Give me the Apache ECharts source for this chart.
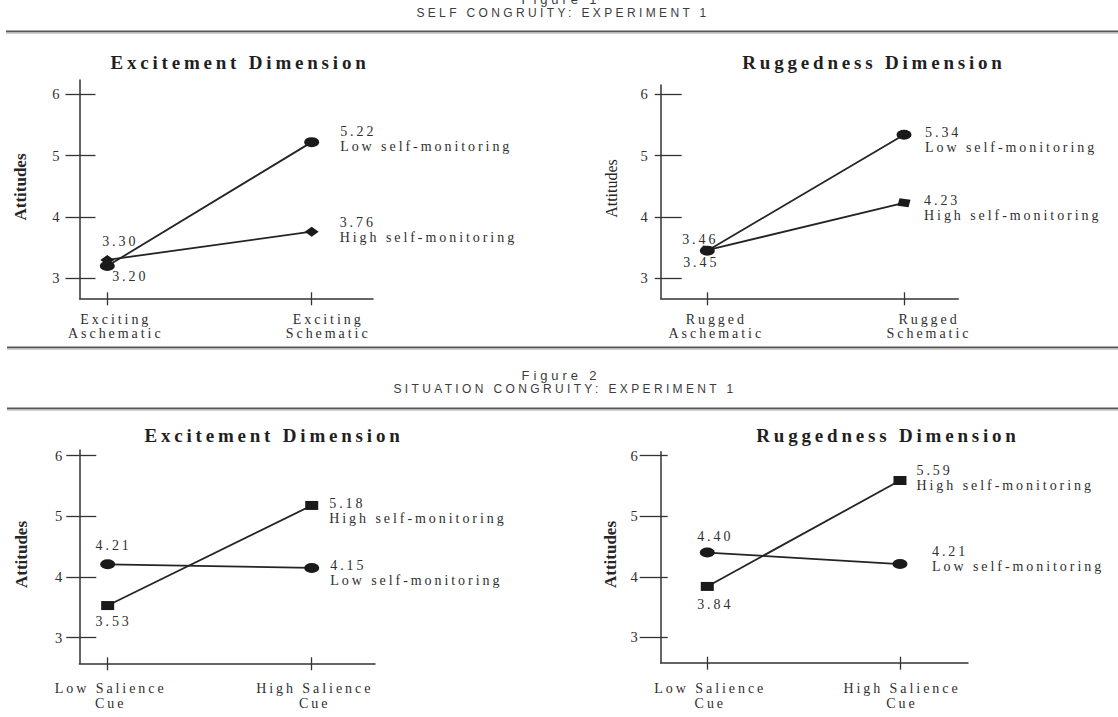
<!DOCTYPE html>
<html>
<head>
<meta charset="utf-8">
<title>Self and situation congruity: Experiment 1</title>
<script src="https://cdn.jsdelivr.net/npm/echarts@6/dist/echarts.min.js"></script>
<style>
  html, body { margin: 0; padding: 0; background: #ffffff; }
  #chart { width: 1118px; height: 717px; }
  /* wide typesetting of the printed figure */
  #chart text[style*="14px"] { letter-spacing: 0.21em; }
  #chart text[style*="19px"] { letter-spacing: 0.2em; }
  #chart text[style*="12px"] { letter-spacing: 0.28em; }
  #chart text[style*="13px"] { letter-spacing: 0.3em; }
</style>
</head>
<body>
<div id="chart"></div>
<script>
// ---- data -------------------------------------------------------------
const fig1ExcitementCats = ['Exciting\nAschematic', 'Exciting\nSchematic'];
const fig1RuggednessCats = ['Rugged\nAschematic', 'Rugged\nSchematic'];
const fig2Cats = ['Low Salience\nCue', 'High Salience\nCue'];
const seriesNames = ['Low self-monitoring', 'High self-monitoring'];
const yTicks = [3, 4, 5, 6];

// Figure 1: self congruity
const f1ExcLow = [3.20, 5.22];
const f1ExcHigh = [3.30, 3.76];
const f1RugLow = [3.45, 5.34];
const f1RugHigh = [3.46, 4.23];
// Figure 2: situation congruity
const f2ExcLow = [4.21, 4.15];
const f2ExcHigh = [3.53, 5.18];
const f2RugLow = [4.40, 4.21];
const f2RugHigh = [3.84, 5.59];

// ---- styling ----------------------------------------------------------
const SERIF = '"Liberation Serif", "Times New Roman", serif';
const SANS = '"Liberation Sans", Arial, sans-serif';
const AXIS = '#333333';
const LINE = '#242424';
const MARK = '#1a1a1a';
const TEXT = '#2f2f2f';
const ELLIPSE = 'path://M0,5A7.5,5,0,1,1,15,5A7.5,5,0,1,1,0,5Z';
const SLANTED = 'path://M2,0L13,1.5L11,9L0,7.5Z';

// per-panel layout: grid box [left, top, width, height], axis extents,
// tick lengths [outside, inside], label margins, category shifts, label offsets
const panels = [
  { title: 'Excitement Dimension', tx: 240, ty: 62, cats: fig1ExcitementCats,
    low: f1ExcLow, high: f1ExcHigh,
    grid: [79.5, 80, 293.5, 218.3], xr: [-0.136, 1.300], yr: [2.674, 6.233],
    tick: [14, 16], lm: 20, cm: 14, cpad: [17, 33], clh: 14,
    yname: [20.7, 187, 'bold', 17], hs: 'diamond', hsz: [14, 10],
    lowLab: [[23, 10], [21, -3]], highLab: [[13, -18], [21, -2]] },
  { title: 'Ruggedness Dimension', tx: 874, ty: 62, cats: fig1RuggednessCats,
    low: f1RugLow, high: f1RugHigh,
    grid: [660.7, 85, 297.6, 213.3], xr: [-0.2369, 1.276], yr: [2.674, 6.1516],
    tick: [6, 21], lm: 13, cm: 14, cpad: [18, 50], clh: 14,
    yname: [611, 188.5, 'normal', 16], hs: SLANTED, hsz: [13, 9],
    lowLab: [[-6, 12], [13.5, 5]], highLab: [[-7, -11], [13.5, 5]] },
  { title: 'Excitement Dimension', tx: 274, ty: 435.5, cats: fig2Cats,
    low: f2ExcLow, high: f2ExcHigh,
    grid: [79.3, 450, 295.7, 213.3], xr: [-0.139, 1.310], yr: [2.578, 6.094],
    tick: [13, 17], lm: 17, cm: 17.5, cpad: [6, 6], clh: 15,
    yname: [21.7, 554.5, 'bold', 17], hs: 'rect', hsz: [13, 9],
    lowLab: [[6, -19], [11, 5]], highLab: [[6, 16], [11, 6]] },
  { title: 'Ruggedness Dimension', tx: 888, ty: 435.5, cats: fig2Cats,
    low: f2RugLow, high: f2RugHigh,
    grid: [660.7, 451.7, 307.3, 211], xr: [-0.2418, 1.353], yr: [2.580, 6.066],
    tick: [21, 7], lm: 23, cm: 18, cpad: [6, 4], clh: 15,
    yname: [610, 554.5, 'bold', 17], hs: 'rect', hsz: [13, 9],
    lowLab: [[8, -16], [24.5, -5]], highLab: [[8, 18], [10, -2.5]] }
];

const headers = [
  { text: 'Figure 1', x: 561, y: -1, size: 13 },
  { text: 'SELF CONGRUITY: EXPERIMENT 1', x: 563, y: 13, size: 12 },
  { text: 'Figure 2', x: 561, y: 375, size: 13 },
  { text: 'SITUATION CONGRUITY: EXPERIMENT 1', x: 565, y: 389, size: 12 }
];
const rules = [{ y: 32, x1: 6 }, { y: 348, x1: 7 }, { y: 409, x1: 7 }];

// ---- build ------------------------------------------------------------
const labelFont = { fontFamily: SERIF, fontSize: 14, color: TEXT };

function pointLabel(spec, i, v, name) {
  if (i === 0) {
    return Object.assign({
      show: true, position: 'inside', offset: spec[0],
      align: 'center', verticalAlign: 'middle',
      formatter: v.toFixed(2)
    }, labelFont);
  }
  return Object.assign({
    show: true, position: 'right', distance: spec[1][0], offset: [0, spec[1][1]],
    align: 'left', verticalAlign: 'middle',
    formatter: '{v|' + v.toFixed(2) + '}\n{n|' + name + '}',
    rich: {
      v: Object.assign({ lineHeight: 15 }, labelFont),
      n: Object.assign({ lineHeight: 15 }, labelFont)
    }
  }, labelFont);
}

const grids = [], xAxes = [], yAxes = [], series = [], graphics = [];
const tickLine = { color: AXIS, width: 1.3 };

panels.forEach(function (p, k) {
  grids.push({ left: p.grid[0], top: p.grid[1], width: p.grid[2], height: p.grid[3],
               containLabel: false, outerBoundsMode: 'none' });

  const catRich = {};
  ['a', 'b'].forEach(function (tag, i) {
    catRich[tag] = Object.assign({ lineHeight: p.clh, padding: [0, 0, 0, p.cpad[i]] }, labelFont);
  });

  const xBase = { type: 'value', gridIndex: k, position: 'bottom', min: p.xr[0], max: p.xr[1],
                  splitLine: { show: false } };
  xAxes.push(Object.assign({}, xBase, {
    axisLine: { show: true, onZero: false, lineStyle: { color: AXIS, width: 1.5 } },
    axisTick: { show: true, inside: false, length: 7, customValues: [0, 1], lineStyle: tickLine },
    axisLabel: {
      show: true, customValues: [0, 1], margin: p.cm, lineHeight: p.clh,
      fontFamily: SERIF, fontSize: 14, color: TEXT, rich: catRich,
      formatter: function (v) {
        const i = Math.round(v);
        const tag = i === 0 ? 'a' : 'b';
        return p.cats[i].split('\n').map(function (s) { return '{' + tag + '|' + s + '}'; }).join('\n');
      }
    }
  }));
  xAxes.push(Object.assign({}, xBase, {
    axisLine: { show: false, onZero: false },
    axisTick: { show: true, inside: true, length: 6, customValues: [0, 1], lineStyle: tickLine },
    axisLabel: { show: false }
  }));

  const yBase = { type: 'value', gridIndex: k, position: 'left', offset: 0, min: p.yr[0], max: p.yr[1],
                  splitLine: { show: false } };
  yAxes.push(Object.assign({}, yBase, {
    axisLine: { show: true, onZero: false, lineStyle: { color: AXIS, width: 1.5 } },
    axisTick: { show: true, inside: false, length: p.tick[0], customValues: yTicks, lineStyle: tickLine },
    axisLabel: { show: true, customValues: yTicks, margin: p.lm,
                 fontFamily: SERIF, fontSize: 14.5, color: '#303030' }
  }));
  yAxes.push(Object.assign({}, yBase, {
    axisLine: { show: false, onZero: false },
    axisTick: { show: true, inside: true, length: p.tick[1], customValues: yTicks, lineStyle: tickLine },
    axisLabel: { show: false }
  }));

  const common = { type: 'line', xAxisIndex: 2 * k, yAxisIndex: 2 * k, silent: true,
                   lineStyle: { color: LINE, width: 1.8 }, itemStyle: { color: MARK },
                   emphasis: { disabled: true } };
  series.push(Object.assign({}, common, {
    name: seriesNames[0], symbol: ELLIPSE, symbolSize: [15, 10],
    data: p.low.map(function (v, i) { return { value: [i, v], label: pointLabel(p.lowLab, i, v, seriesNames[0]) }; })
  }));
  series.push(Object.assign({}, common, {
    name: seriesNames[1], symbol: p.hs, symbolSize: p.hsz,
    data: p.high.map(function (v, i) { return { value: [i, v], label: pointLabel(p.highLab, i, v, seriesNames[1]) }; })
  }));

  graphics.push({ type: 'text', x: p.tx, y: p.ty, silent: true,
    style: { text: p.title, fontFamily: SERIF, fontSize: 19, fontWeight: 'bold', fill: '#1f1f1f',
             align: 'center', verticalAlign: 'middle' } });
  graphics.push({ type: 'text', x: p.yname[0], y: p.yname[1], rotation: Math.PI / 2, silent: true,
    style: { text: 'Attitudes', fontFamily: SERIF, fontSize: p.yname[3], fontWeight: p.yname[2], fill: '#262626',
             align: 'center', verticalAlign: 'middle' } });
});

headers.forEach(function (h) {
  graphics.push({ type: 'text', x: h.x, y: h.y, silent: true,
    style: { text: h.text, fontFamily: SANS, fontSize: h.size, fill: '#3c3c3c',
             align: 'center', verticalAlign: 'middle' } });
});
rules.forEach(function (r) {
  graphics.push({ type: 'line', silent: true, shape: { x1: r.x1, y1: r.y - 0.8, x2: 1118, y2: r.y - 0.8 },
                  style: { stroke: '#555555', lineWidth: 1.5 } });
  graphics.push({ type: 'line', silent: true, shape: { x1: r.x1, y1: r.y + 0.9, x2: 1118, y2: r.y + 0.9 },
                  style: { stroke: '#a0a0a0', lineWidth: 1.4 } });
});

const chart = echarts.init(document.getElementById('chart'), null, { renderer: 'svg' });
chart.setOption({
  animation: false,
  backgroundColor: '#ffffff',
  tooltip: { show: false },
  grid: grids,
  xAxis: xAxes,
  yAxis: yAxes,
  series: series,
  graphic: graphics
});
</script>
</body>
</html>
